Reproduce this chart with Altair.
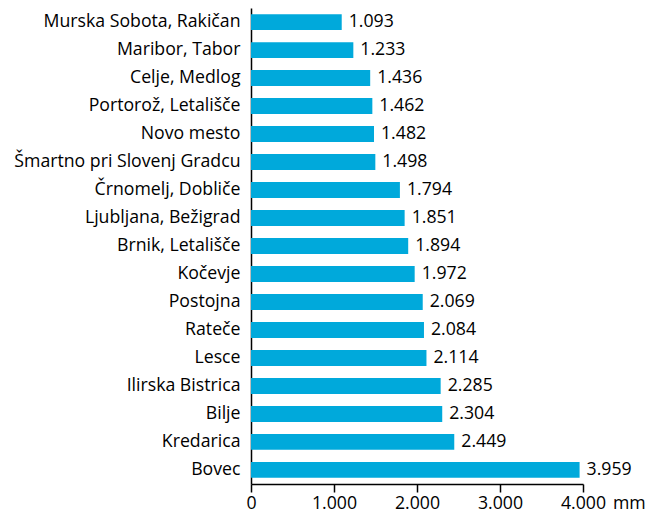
import altair as alt
import pandas as pd

stations = ["Murska Sobota, Rakičan", "Maribor, Tabor", "Celje, Medlog", "Portorož, Letališče",
            "Novo mesto", "Šmartno pri Slovenj Gradcu", "Črnomelj, Dobliče", "Ljubljana, Bežigrad",
            "Brnik, Letališče", "Kočevje", "Postojna", "Rateče", "Lesce", "Ilirska Bistrica",
            "Bilje", "Kredarica", "Bovec"]
values = [1093, 1233, 1436, 1462, 1482, 1498, 1794, 1851, 1894, 1972, 2069, 2084, 2114, 2285,
          2304, 2449, 3959]
x_ticks = [0, 1000, 2000, 3000, 4000]

df = pd.DataFrame({"station": stations, "value": values})
FONT = "Open Sans"
FS = 17.7
COLOR = "#00A9DB"

base = alt.Chart(df).encode(
    y=alt.Y("station:N", sort=stations, title=None,
            scale=alt.Scale(paddingInner=0.43, paddingOuter=0.22),
            axis=alt.Axis(domain=True, domainColor="black", domainWidth=1.5, ticks=False,
                          labelFontSize=FS, labelFont=FONT, labelColor="black",
                          labelPadding=11, labelLimit=400)),
)

bars = base.mark_bar(color=COLOR).encode(
    x=alt.X("value:Q", title=None, scale=alt.Scale(domain=[0, 4000], nice=False),
            axis=alt.Axis(values=x_ticks, grid=False, domainColor="black", domainWidth=1.5,
                          tickColor="black", tickSize=8, tickWidth=1.5, labelFlush=False,
                          labelFontSize=FS, labelFont=FONT, labelColor="black", labelPadding=2,
                          labelExpr="replace(format(datum.value, ','), ',', '.')"))
)

texts = base.transform_calculate(
    lbl="replace(format(datum.value, ','), ',', '.')"
).mark_text(align="left", baseline="middle", dx=7, fontSize=FS, font=FONT, color="black").encode(
    x="value:Q", text="lbl:N"
)

unit = alt.Chart(pd.DataFrame({"u": ["mm"]})).mark_text(
    align="left", baseline="top", dx=30, dy=11, fontSize=FS, font=FONT, color="black"
).encode(x=alt.datum(4000), y=alt.value(476), text="u:N")

chart = alt.layer(bars, texts, unit).properties(
    width=332, height=476, padding={"left": 5, "top": 0, "right": 0, "bottom": 0}
).configure_view(stroke=None)
chart.save("out.html", embed_options={"renderer": "svg", "actions": False})
